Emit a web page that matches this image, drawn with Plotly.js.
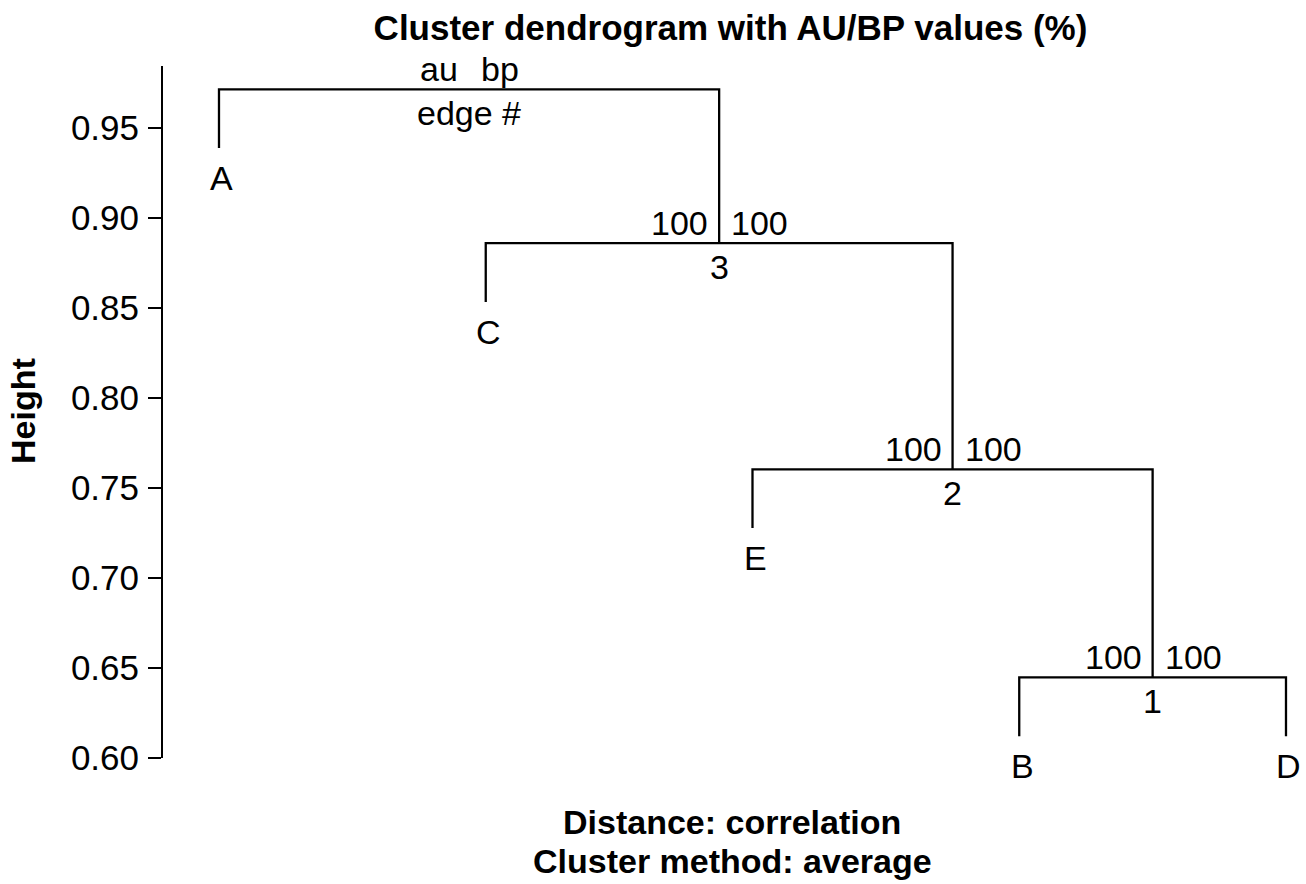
<!DOCTYPE html>
<html><head><meta charset="utf-8">
<script src="https://cdn.plot.ly/plotly-3.0.1.min.js"></script>
<style>html,body{margin:0;padding:0;background:#fff}</style>
</head><body><div id="chart" style="width:1306px;height:884px"></div>
<script>
// ---- data ----
const leafOrder   = ['A', 'C', 'E', 'B', 'D'];
const mergeLeft   = ['B', 'E', 'C', 'A'];
const mergeRight  = ['D', '#1', '#2', '#3'];
const mergeHeight = [0.6448, 0.7604, 0.8860, 0.9715];
const auValues    = [100, 100, 100];
const bpValues    = [100, 100, 100];
const edgeNumbers = [1, 2, 3];
const yTickVals   = [0.60, 0.65, 0.70, 0.75, 0.80, 0.85, 0.90, 0.95];
const titleText   = 'Cluster dendrogram with AU/BP values (%)';
const xTitleLines = ['Distance: correlation', 'Cluster method: average'];
const yTitleText  = 'Height';
const hang = 0.1;

// ---- layout of the tree ----
const FONT = 'Liberation Sans, Arial, Helvetica, sans-serif';
const FS = 34;
const nodes = {};
leafOrder.forEach((l, i) => { nodes[l] = {x: i + 1, h: null, leaf: true}; });
const hRange = Math.max(...mergeHeight) - Math.min(...mergeHeight);
const lx = [], ly = [];
const annotations = [];
mergeHeight.forEach((h, k) => {
  const L = nodes[mergeLeft[k]], R = nodes[mergeRight[k]];
  const yl = L.leaf ? h - hang * hRange : L.h;
  const yr = R.leaf ? h - hang * hRange : R.h;
  lx.push(L.x, L.x, R.x, R.x, null);
  ly.push(yl, h, h, yr, null);
  const cx = (L.x + R.x) / 2;
  nodes['#' + (k + 1)] = {x: cx, h: h, leaf: false};
  [[L, yl, mergeLeft[k]], [R, yr, mergeRight[k]]].forEach(([n, y, name]) => {
    if (n.leaf) annotations.push({x: n.x, y: y, xref: 'x', yref: 'y', text: name,
      showarrow: false, xanchor: 'center', yanchor: 'middle', xshift: 3, yshift: -30,
      font: {family: FONT, size: FS, color: '#000'}});
  });
  const isRoot = k === mergeHeight.length - 1;
  const leftTxt = isRoot ? 'au' : String(auValues[k]);
  const rightTxt = isRoot ? 'bp' : String(bpValues[k]);
  const belowTxt = isRoot ? 'edge #' : String(edgeNumbers[k]);
  annotations.push({x: cx, y: h, xref: 'x', yref: 'y', text: leftTxt, showarrow: false,
    xanchor: 'right', yanchor: 'bottom', xshift: -9, yshift: -1,
    font: {family: FONT, size: FS, color: '#000'}});
  annotations.push({x: cx, y: h, xref: 'x', yref: 'y', text: rightTxt, showarrow: false,
    xanchor: 'left', yanchor: 'bottom', xshift: 10, yshift: -1,
    font: {family: FONT, size: FS, color: '#000'}});
  annotations.push({x: cx, y: h, xref: 'x', yref: 'y', text: belowTxt, showarrow: false,
    xanchor: 'center', yanchor: 'top', xshift: 0, yshift: -3,
    font: {family: FONT, size: FS, color: '#000'}});
});

// titles
annotations.push({xref: 'paper', yref: 'paper', x: 0.498, y: -0.0925, text: '<b>' + xTitleLines[0] + '</b>',
  showarrow: false, xanchor: 'center', yanchor: 'middle', borderpad: 0, font: {family: FONT, size: FS, color: '#000'}});
annotations.push({xref: 'paper', yref: 'paper', x: 0.498, y: -0.149, text: '<b>' + xTitleLines[1] + '</b>',
  showarrow: false, xanchor: 'center', yanchor: 'middle', borderpad: 0, font: {family: FONT, size: FS, color: '#000'}});
annotations.push({xref: 'paper', yref: 'paper', x: -0.123, y: 0.502, text: '<b>' + yTitleText + '</b>',
  textangle: -90, showarrow: false, xanchor: 'center', yanchor: 'middle', font: {family: FONT, size: FS, color: '#000'}});

const trace = {x: lx, y: ly, type: 'scatter', mode: 'lines',
  line: {color: '#000', width: 2.3}, hoverinfo: 'skip', showlegend: false, cliponaxis: false};

const layout = {
  width: 1306, height: 884,
  margin: {l: 163, r: 0, t: 66, b: 126, pad: 0},
  paper_bgcolor: '#fff', plot_bgcolor: '#fff',
  title: {text: '<b>' + titleText + '</b>', x: 0.4965, xref: 'paper', xanchor: 'center',
    y: 0.969, yref: 'container', yanchor: 'middle', font: {family: FONT, size: 35, color: '#000'}},
  xaxis: {range: [0.7901, 5.075], visible: false, fixedrange: true},
  yaxis: {range: [0.60, 0.98444], tickvals: yTickVals, tickformat: '.2f',
    showline: true, linecolor: '#000', linewidth: 2, ticks: 'outside', ticklen: 13,
    tickwidth: 2, tickcolor: '#000', showgrid: false, zeroline: false,
    ticklabelstandoff: 2,
    tickfont: {family: FONT, size: 35, color: '#000'}, fixedrange: true},
  annotations: annotations,
  showlegend: false
};
Plotly.newPlot('chart', [trace], layout, {displayModeBar: false, staticPlot: true});
</script></body></html>
